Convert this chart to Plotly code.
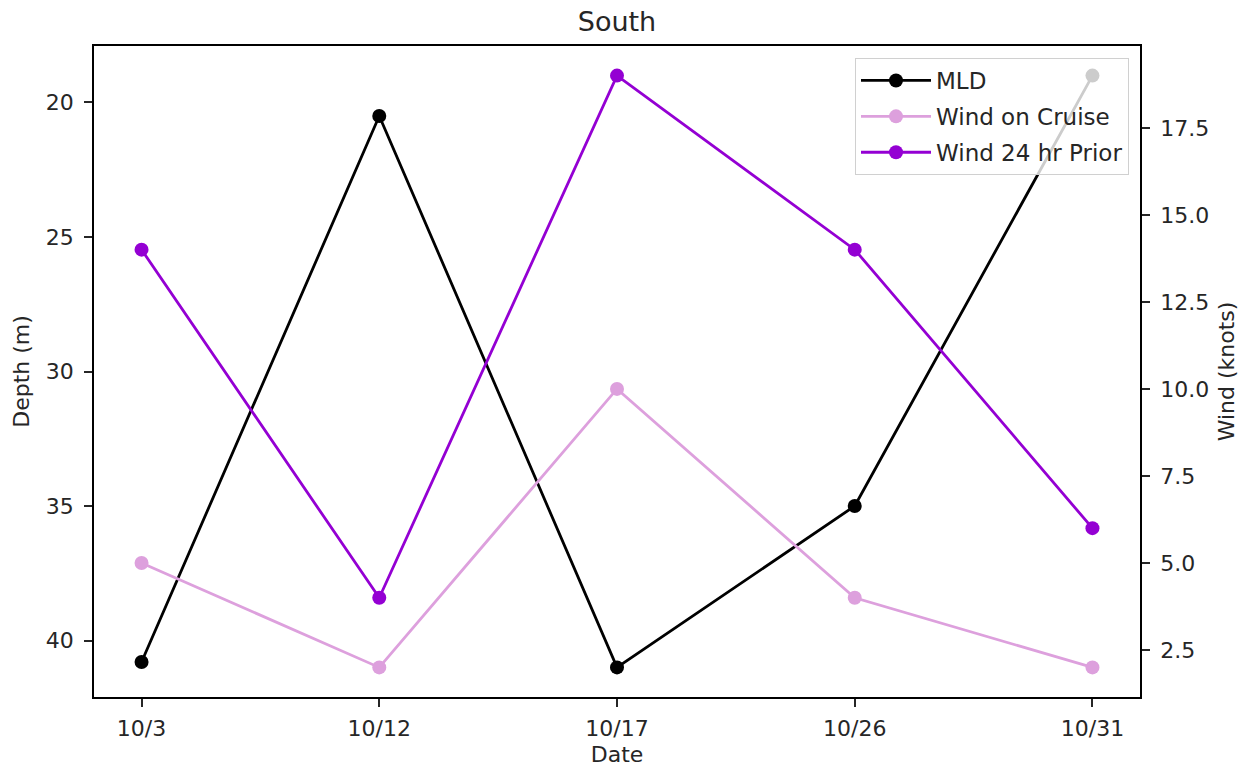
import plotly.graph_objects as go

# Sampling dates and measurements for the South station
dates = ["10/3", "10/12", "10/17", "10/26", "10/31"]
mld_depth = [40.8, 20.5, 41.0, 35.0, 19.0]          # mixed layer depth (m)
wind_on_cruise = [5, 2, 10, 4, 2]                    # knots
wind_24hr_prior = [14, 4, 19, 14, 6]                 # knots

depth_ticks = [20, 25, 30, 35, 40]
wind_ticks = [2.5, 5.0, 7.5, 10.0, 12.5, 15.0, 17.5]

FONT = "DejaVu Sans, Verdana, sans-serif"
TXT = "#262626"
FS = 22

x_idx = list(range(len(dates)))

fig = go.Figure()

fig.add_trace(go.Scatter(
    x=x_idx, y=mld_depth, name="MLD", mode="lines+markers",
    line=dict(color="black", width=2.8), marker=dict(color="black", size=14),
    yaxis="y", legendgroup="a",
))
fig.add_trace(go.Scatter(
    x=x_idx, y=wind_on_cruise, name="Wind on Cruise", mode="lines+markers",
    line=dict(color="#DDA0DD", width=2.8), marker=dict(color="#DDA0DD", size=14),
    yaxis="y2", legendgroup="b",
))
fig.add_trace(go.Scatter(
    x=x_idx, y=wind_24hr_prior, name="Wind 24 hr Prior", mode="lines+markers",
    line=dict(color="#9400D3", width=2.8), marker=dict(color="#9400D3", size=14),
    yaxis="y2", legendgroup="c",
))

axis_common = dict(
    showgrid=False, zeroline=False, showline=True, linecolor="black", linewidth=1.6,
    ticks="outside", ticklen=8, tickwidth=1.6, tickcolor=TXT,
    automargin=False,
    tickfont=dict(family=FONT, size=FS, color=TXT),
)

fig.update_layout(
    width=1245, height=771,
    margin=dict(l=94, r=105, t=46, b=74),
    paper_bgcolor="white", plot_bgcolor="white",
    font=dict(family=FONT, color=TXT),
    title=dict(text="South", x=(94 + 1140) / 2 / 1245, xanchor="center",
               y=1 - 22 / 771, yanchor="middle",
               font=dict(family=FONT, size=27, color=TXT)),
    xaxis=dict(
        **axis_common, mirror=True, ticklabelstandoff=3,
        tickmode="array", tickvals=x_idx, ticktext=dates,
        range=[-0.2, 4.2],
        title=dict(text="Date", font=dict(family=FONT, size=FS, color=TXT), standoff=6),
    ),
    yaxis=dict(
        **axis_common, mirror=True, ticklabelstandoff=6,
        tickmode="array", tickvals=depth_ticks, ticktext=[str(t) for t in depth_ticks],
        range=[42.1, 17.9],
        title=dict(text="Depth (m)", font=dict(family=FONT, size=FS, color=TXT), standoff=10),
    ),
    yaxis2=dict(
        **axis_common, overlaying="y", side="right", anchor="x", ticklabelstandoff=6,
        tickmode="array", tickvals=wind_ticks, ticktext=[f"{t:.1f}" for t in wind_ticks],
        range=[1.15, 19.85],
        title=dict(text="Wind (knots)", font=dict(family=FONT, size=FS, color=TXT), standoff=10),
    ),
    legend=dict(
        x=(1129 - 94) / (1140 - 94), xanchor="right",
        y=1 - (58 - 46) / (697 - 46), yanchor="top",
        bgcolor="rgba(255,255,255,0.8)", bordercolor="#d0d0d0", borderwidth=1,
        font=dict(family=FONT, size=23, color=TXT),
        traceorder="grouped", tracegroupgap=3,
        itemwidth=70,
    ),
    showlegend=True,
)

fig.write_html("out.html")
